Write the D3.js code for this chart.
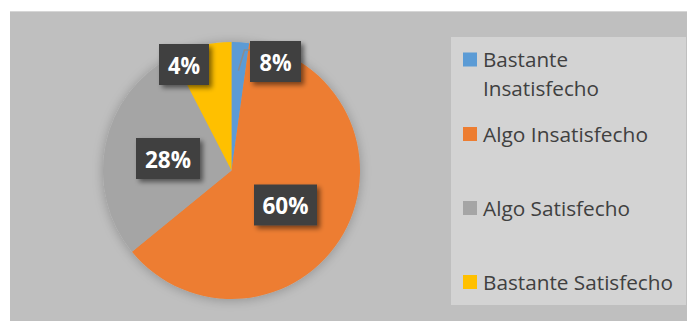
<!DOCTYPE html>
<html>
<head>
<meta charset="utf-8">
<script src="https://cdn.jsdelivr.net/npm/d3@7"></script>
<style>
  body { margin: 0; background: #fff; }
  svg { display: block; }
</style>
</head>
<body>
<div id="chart"></div>
<script>
// slice shares as drawn, clockwise from 12 o'clock
const categories = ['Bastante Insatisfecho', 'Algo Insatisfecho', 'Algo Satisfecho', 'Bastante Satisfecho'];
const values = [2.2, 61.9, 28.3, 7.6];
// data labels as printed on the chart
const labels = ['8%', '60%', '28%', '4%'];
const colors = ['#5b9bd5', '#ed7d31', '#a5a5a5', '#ffc000'];

const width = 687, height = 321;
const cx = 231.5, cy = 170.5, radius = 128.5;

const svg = d3.select('#chart').append('svg')
  .attr('width', width).attr('height', height);

const defs = svg.append('defs');
const pieShadow = defs.append('filter').attr('id', 'pieShadow')
  .attr('x', '-20%').attr('y', '-20%').attr('width', '140%').attr('height', '140%');
pieShadow.append('feGaussianBlur').attr('in', 'SourceAlpha').attr('stdDeviation', 6).attr('result', 'b');
pieShadow.append('feOffset').attr('in', 'b').attr('dx', 0).attr('dy', 1).attr('result', 'o');
pieShadow.append('feComponentTransfer').attr('in', 'o').attr('result', 's')
  .append('feFuncA').attr('type', 'linear').attr('slope', 0.25);
const m1 = pieShadow.append('feMerge');
m1.append('feMergeNode').attr('in', 's');
m1.append('feMergeNode').attr('in', 'SourceGraphic');

const boxShadow = defs.append('filter').attr('id', 'boxShadow')
  .attr('x', '-30%').attr('y', '-30%').attr('width', '160%').attr('height', '160%');
boxShadow.append('feGaussianBlur').attr('in', 'SourceAlpha').attr('stdDeviation', 2.5).attr('result', 'b');
boxShadow.append('feOffset').attr('in', 'b').attr('dx', 3).attr('dy', 3).attr('result', 'o');
boxShadow.append('feComponentTransfer').attr('in', 'o').attr('result', 's')
  .append('feFuncA').attr('type', 'linear').attr('slope', 0.5);
const m2 = boxShadow.append('feMerge');
m2.append('feMergeNode').attr('in', 's');
m2.append('feMergeNode').attr('in', 'SourceGraphic');

// chart area
svg.append('rect').attr('x', 10).attr('y', 11).attr('width', width - 10).attr('height', height - 11)
  .attr('fill', '#bfbfbf');
svg.append('line').attr('x1', 10).attr('x2', width).attr('y1', 11.5).attr('y2', 11.5)
  .attr('stroke', '#d6d6d6').attr('stroke-width', 1);

const pie = d3.pie().sort(null).value(d => d)(values);
const arc = d3.arc().innerRadius(0).outerRadius(radius);

const g = svg.append('g').attr('transform', `translate(${cx},${cy})`);
g.append('g').attr('filter', 'url(#pieShadow)')
  .selectAll('path').data(pie).join('path')
  .attr('d', arc)
  .attr('fill', (d, i) => colors[i]);

// label box centres
const labelPos = [
  { x: 275.5, y: 61.5, w: 51 },
  { x: 285.5, y: 205, w: 63 },
  { x: 168, y: 158.5, w: 64 },
  { x: 184, y: 64.5, w: 50 }
];

// leader line for the small blue slice
const blueMid = (pie[0].startAngle + pie[0].endAngle) / 2;
const lx = cx + Math.sin(blueMid) * radius * 0.78;
const ly = cy - Math.cos(blueMid) * radius * 0.78;
svg.append('polyline')
  .attr('points', `${lx},${ly} ${lx + 6},50 250,50`)
  .attr('fill', 'none').attr('stroke', '#8c8c8c').attr('stroke-width', 1.5);

const lbl = svg.append('g').selectAll('g').data(pie).join('g')
  .attr('transform', (d, i) => `translate(${labelPos[i].x},${labelPos[i].y})`);
lbl.append('rect')
  .attr('x', (d, i) => -labelPos[i].w / 2).attr('y', -20.5)
  .attr('width', (d, i) => labelPos[i].w).attr('height', 41)
  .attr('fill', '#404040').attr('filter', 'url(#boxShadow)');
lbl.append('text')
  .attr('text-anchor', 'middle').attr('y', 9)
  .attr('font-family', '"Open Sans", sans-serif').attr('font-weight', 700)
  .attr('font-size', 24).attr('fill', '#fff')
  .attr('textLength', (d, i) => labels[i].length === 2 ? 32 : 46)
  .attr('lengthAdjust', 'spacingAndGlyphs')
  .text((d, i) => labels[i]);

// legend
svg.append('rect').attr('x', 451).attr('y', 37).attr('width', 235).attr('height', 268)
  .attr('fill', '#d3d3d3');
const legendLines = [['Bastante', 'Insatisfecho'], ['Algo Insatisfecho'], ['Algo Satisfecho'], ['Bastante Satisfecho']];
const legendY = [52.5, 127, 201, 275];
const legendLen = { 'Bastante': 85, 'Insatisfecho': 116, 'Algo Insatisfecho': 165, 'Algo Satisfecho': 147, 'Bastante Satisfecho': 190 };
const leg = svg.append('g').selectAll('g').data(categories).join('g')
  .attr('transform', (d, i) => `translate(463,${legendY[i]})`);
leg.append('rect').attr('width', 14).attr('height', 14).attr('fill', (d, i) => colors[i]);
leg.each(function (d, i) {
  legendLines[i].forEach((t, j) => {
    d3.select(this).append('text')
      .attr('x', 20).attr('y', 14.5 + j * 28.5)
      .attr('font-family', '"Open Sans", sans-serif').attr('font-size', 20.5)
      .attr('fill', '#404040')
      .attr('textLength', legendLen[t]).attr('lengthAdjust', 'spacingAndGlyphs')
      .text(t);
  });
});
</script>
</body>
</html>
